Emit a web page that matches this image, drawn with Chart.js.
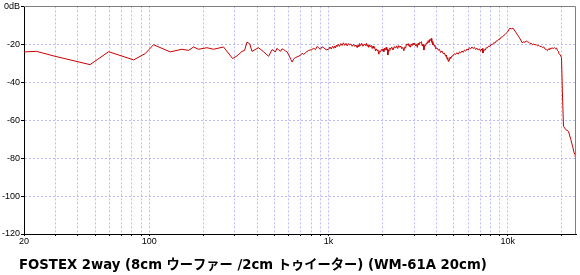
<!DOCTYPE html>
<html><head><meta charset="utf-8">
<script src="https://cdn.jsdelivr.net/npm/chart.js@4.4.1/dist/chart.umd.min.js"></script>
<style>html,body{margin:0;padding:0;background:#fff}#wrap{width:580px;height:275px;position:relative}</style>
</head><body><div id="wrap"><canvas id="c" width="580" height="275"></canvas></div>
<script>
const titleText = 'FOSTEX 2way (8cm ウーファー /2cm トゥイーター) (WM-61A 20cm)';
const freqs = [
20,23.5,29.8,46.7,59.3,81.8,94.8,100,105.5,130.8,152,165.5,176.6,188,209.7,228,259.6,291.6,308.6,329,340,351,363,374,407,435,463,484,
505,516,527,539,550,562,575,587,597,607,616,626,640,653,675,697,712,727,750,775,800,827,845,864,882,901,920,940,970,
1002,1018,1035,1052,1069,1081,1093,1105,1117,1133,
1150,1170,1191,1210,1230,1250,1270,1290,1310,1332,
1354,1377,1400,1422,1444,1460,1475,1490,1508,1530,
1555,1580,1608,1624,1640,1658,1676,1694,1712,1732,
1752,1770,1790,1808,1828,1846,1865,1885,1906,1928,
1950,1970,1992,2013,2035,2055,2078,2094,2110,2125,
2141,2160,2180,2198,2216,2253,2290,2327,2364,2397,
2430,2464,2498,2529,2560,2595,2630,2660,2690,2720,
2748,2780,2810,2838,2866,2898,2930,2960,2992,3025,
3060,3093,3126,3158,3190,3226,3262,3296,3330,3366,
3402,3440,3480,3517,3554,3592,3630,3670,3708,3736,
3765,3792,3820,3855,3890,3923,3956,4020,4090,4150,
4218,4290,4360,4430,4498,4540,4580,4618,4656,4690,
4720,4760,4798,4870,4950,5030,5116,5200,5290,5370,
5456,5550,5640,5730,5818,5910,6010,6100,6202,6300,
6400,6510,6616,6720,6830,6940,7054,7110,7160,7210,
7266,7370,7480,7580,7690,7810,7940,8070,8202,8330,
8470,8600,8748,8890,9030,9180,9328,
9734,9948,10248,10500,10692,11070,11550,12064,12250,12450,
12650,12866,13080,13300,13500,13720,13950,14170,14400,14628,
14860,15100,15350,15604,15850,16100,16370,16640,16820,17000,
17180,17362,17650,17930,18220,18512,18700,18900,19100,19316,
19600,19922,20150,20440,21060,21800,22460,22960,23440,23700,24000];
const levels = [
-24.0,-23.7,-26.3,-30.7,-23.9,-28.2,-24.9,-22.6,-20.2,-24.0,-22.6,-23.2,-21.4,-22.6,-21.8,-22.6,-21.4,-27.5,-26.1,-23.7,-23.2,-18.8,-19.7,-23.7,-21.8,-24.0,-26.3,-22.8,
-24.0,-22.1,-23.0,-23.7,-22.4,-22.8,-23.5,-24.0,-25.2,-26.6,-28.0,-29.3,-27.6,-27.0,-26.4,-25.8,-24.7,-25.3,-24.1,-23.2,-22.9,-22.1,-22.8,-21.1,-22.0,-22.6,-21.3,-21.8,-22.9,
-22.6,-21.4,-22.5,-21.0,-22.1,-20.9,-21.9,-20.4,-21.2,-20.0,
-21.1,-19.6,-20.6,-19.2,-20.5,-19.5,-20.8,-19.6,-20.4,-19.8,
-21.0,-20.0,-21.1,-20.3,-21.8,-20.4,-21.2,-19.6,-20.6,-19.5,
-21.0,-19.8,-20.7,-19.5,-20.9,-20.1,-21.6,-20.4,-21.3,-20.6,
-22.2,-21.0,-22.0,-21.7,-23.5,-22.4,-23.3,-22.9,-25.2,-23.6,
-24.0,-22.7,-23.4,-22.4,-23.8,-22.0,-22.8,-21.6,-23.0,-22.4,
-25.6,-23.2,-23.4,-21.9,-22.6,-21.5,-23.0,-21.2,-22.0,-20.8,
-22.2,-20.7,-21.6,-20.9,-22.3,-21.6,-23.4,-21.5,-21.9,-19.8,
-20.4,-19.6,-21.0,-20.2,-21.5,-19.8,-20.6,-19.4,-20.2,-19.5,
-20.8,-20.0,-21.6,-19.5,-20.3,-18.9,-19.2,-18.6,-20.9,-20.0,
-23.0,-20.7,-20.6,-19.2,-19.6,-18.1,-19.0,-17.4,-18.0,-16.9,
-18.9,-18.6,-20.3,-19.8,-21.0,-20.6,-22.4,-21.9,-23.1,-22.6,
-24.3,-23.5,-24.9,-24.6,-26.3,-25.6,-27.8,-27.0,-29.0,-28.2,
-28.4,-26.8,-27.4,-26.2,-26.0,-25.0,-25.3,-24.4,-25.2,-24.0,
-24.5,-23.5,-24.2,-23.0,-23.6,-22.5,-23.0,-21.8,-22.4,-21.4,
-22.2,-21.6,-22.7,-22.0,-23.0,-22.4,-23.6,-22.5,-23.0,-22.2,
-24.6,-22.9,-23.0,-21.8,-21.9,-20.9,-21.1,-20.1,-20.1,-19.2,
-19.3,-18.3,-18.2,-17.3,-17.3,-16.2,-16.0,
-14.4,-13.6,-11.5,-11.8,-11.5,-13.6,-16.2,-19.3,-18.6,-19.0,
-18.2,-18.6,-18.9,-19.6,-19.4,-20.3,-19.8,-20.3,-20.1,-20.8,
-20.5,-21.2,-21.0,-21.8,-21.3,-22.4,-22.7,-23.3,-22.4,-22.7,
-21.9,-22.3,-21.9,-22.2,-21.8,-22.4,-22.0,-23.2,-23.6,-25.0,
-25.6,-27.0,-45.0,-63.2,-65.0,-65.9,-70.2,-73.7,-77.2,-78.1,-81.5];
const xTickValues = [20,30,40,50,60,70,80,90,100,200,300,400,500,600,700,800,900,1000,2000,3000,4000,5000,6000,7000,8000,9000,10000,20000];
const xTickLabels = {20:'20',100:'100',1000:'1k',10000:'10k'};
const yMin = -120, yMax = 0, yStep = 20;

const GRID = 'rgba(160,160,250,0.7)';
const framePlugin = {
  id: 'framePlugin',
  afterDraw(chart) {
    const {ctx, chartArea: a} = chart;
    ctx.save();
    ctx.strokeStyle = '#808080';
    ctx.lineWidth = 1;
    ctx.setLineDash([]);
    ctx.beginPath();
    ctx.moveTo(a.left, Math.round(a.top) + 0.5);
    ctx.lineTo(Math.round(a.right) - 0.5, Math.round(a.top) + 0.5);
    ctx.lineTo(Math.round(a.right) - 0.5, a.bottom);
    ctx.stroke();
    ctx.fillStyle = '#000';
    ctx.font = 'bold 13.25px "DejaVu Sans", "Noto Sans CJK JP", sans-serif';
    ctx.textBaseline = 'alphabetic';
    ctx.textAlign = 'left';
    ctx.fillText(titleText, 19, 269);
    ctx.restore();
  }
};

new Chart(document.getElementById('c'), {
  type: 'line',
  data: {
    datasets: [{
      data: freqs.map((f, i) => ({x: f, y: levels[i]})),
      borderColor: '#c80000',
      borderWidth: 1,
      pointRadius: 0,
      tension: 0,
      fill: false
    }]
  },
  options: {
    responsive: false,
    devicePixelRatio: 1,
    animation: false,
    layout: {padding: {left: 0, top: 4, right: 4, bottom: 29}},
    plugins: {legend: {display: false}, tooltip: {enabled: false}, title: {display: false}},
    scales: {
      x: {
        type: 'logarithmic',
        min: 20, max: 24000,
        afterBuildTicks: s => { s.ticks = xTickValues.map(v => ({value: v})); },
        afterFit: s => { s.height = 12; },
        ticks: {
          autoSkip: false, maxRotation: 0, minRotation: 0, padding: 0,
          color: '#000', font: {family: '"Liberation Sans", Arial, sans-serif', size: 9},
          callback: v => xTickLabels[v] || ''
        },
        grid: {
          color: c => (c.tick && c.tick.value === 20) ? 'rgba(0,0,0,0)' : GRID,
          lineWidth: 1, drawTicks: true, tickLength: 2, tickColor: '#000'
        },
        border: {display: true, color: '#000', width: 1, dash: [2, 2]}
      },
      y: {
        min: yMin, max: yMax,
        afterFit: s => { s.width = 24; },
        ticks: {
          stepSize: yStep, padding: 1, color: '#000',
          font: {family: '"Liberation Sans", Arial, sans-serif', size: 9},
          callback: v => v === 0 ? '0dB' : String(v)
        },
        grid: {
          color: c => (c.tick && (c.tick.value === 0 || c.tick.value === -120)) ? 'rgba(0,0,0,0)' : GRID,
          lineWidth: 1, drawTicks: true, tickLength: 3, tickColor: '#000'
        },
        border: {display: true, color: '#000', width: 1, dash: [2, 2]}
      }
    }
  },
  plugins: [framePlugin]
});
</script>
</body></html>
